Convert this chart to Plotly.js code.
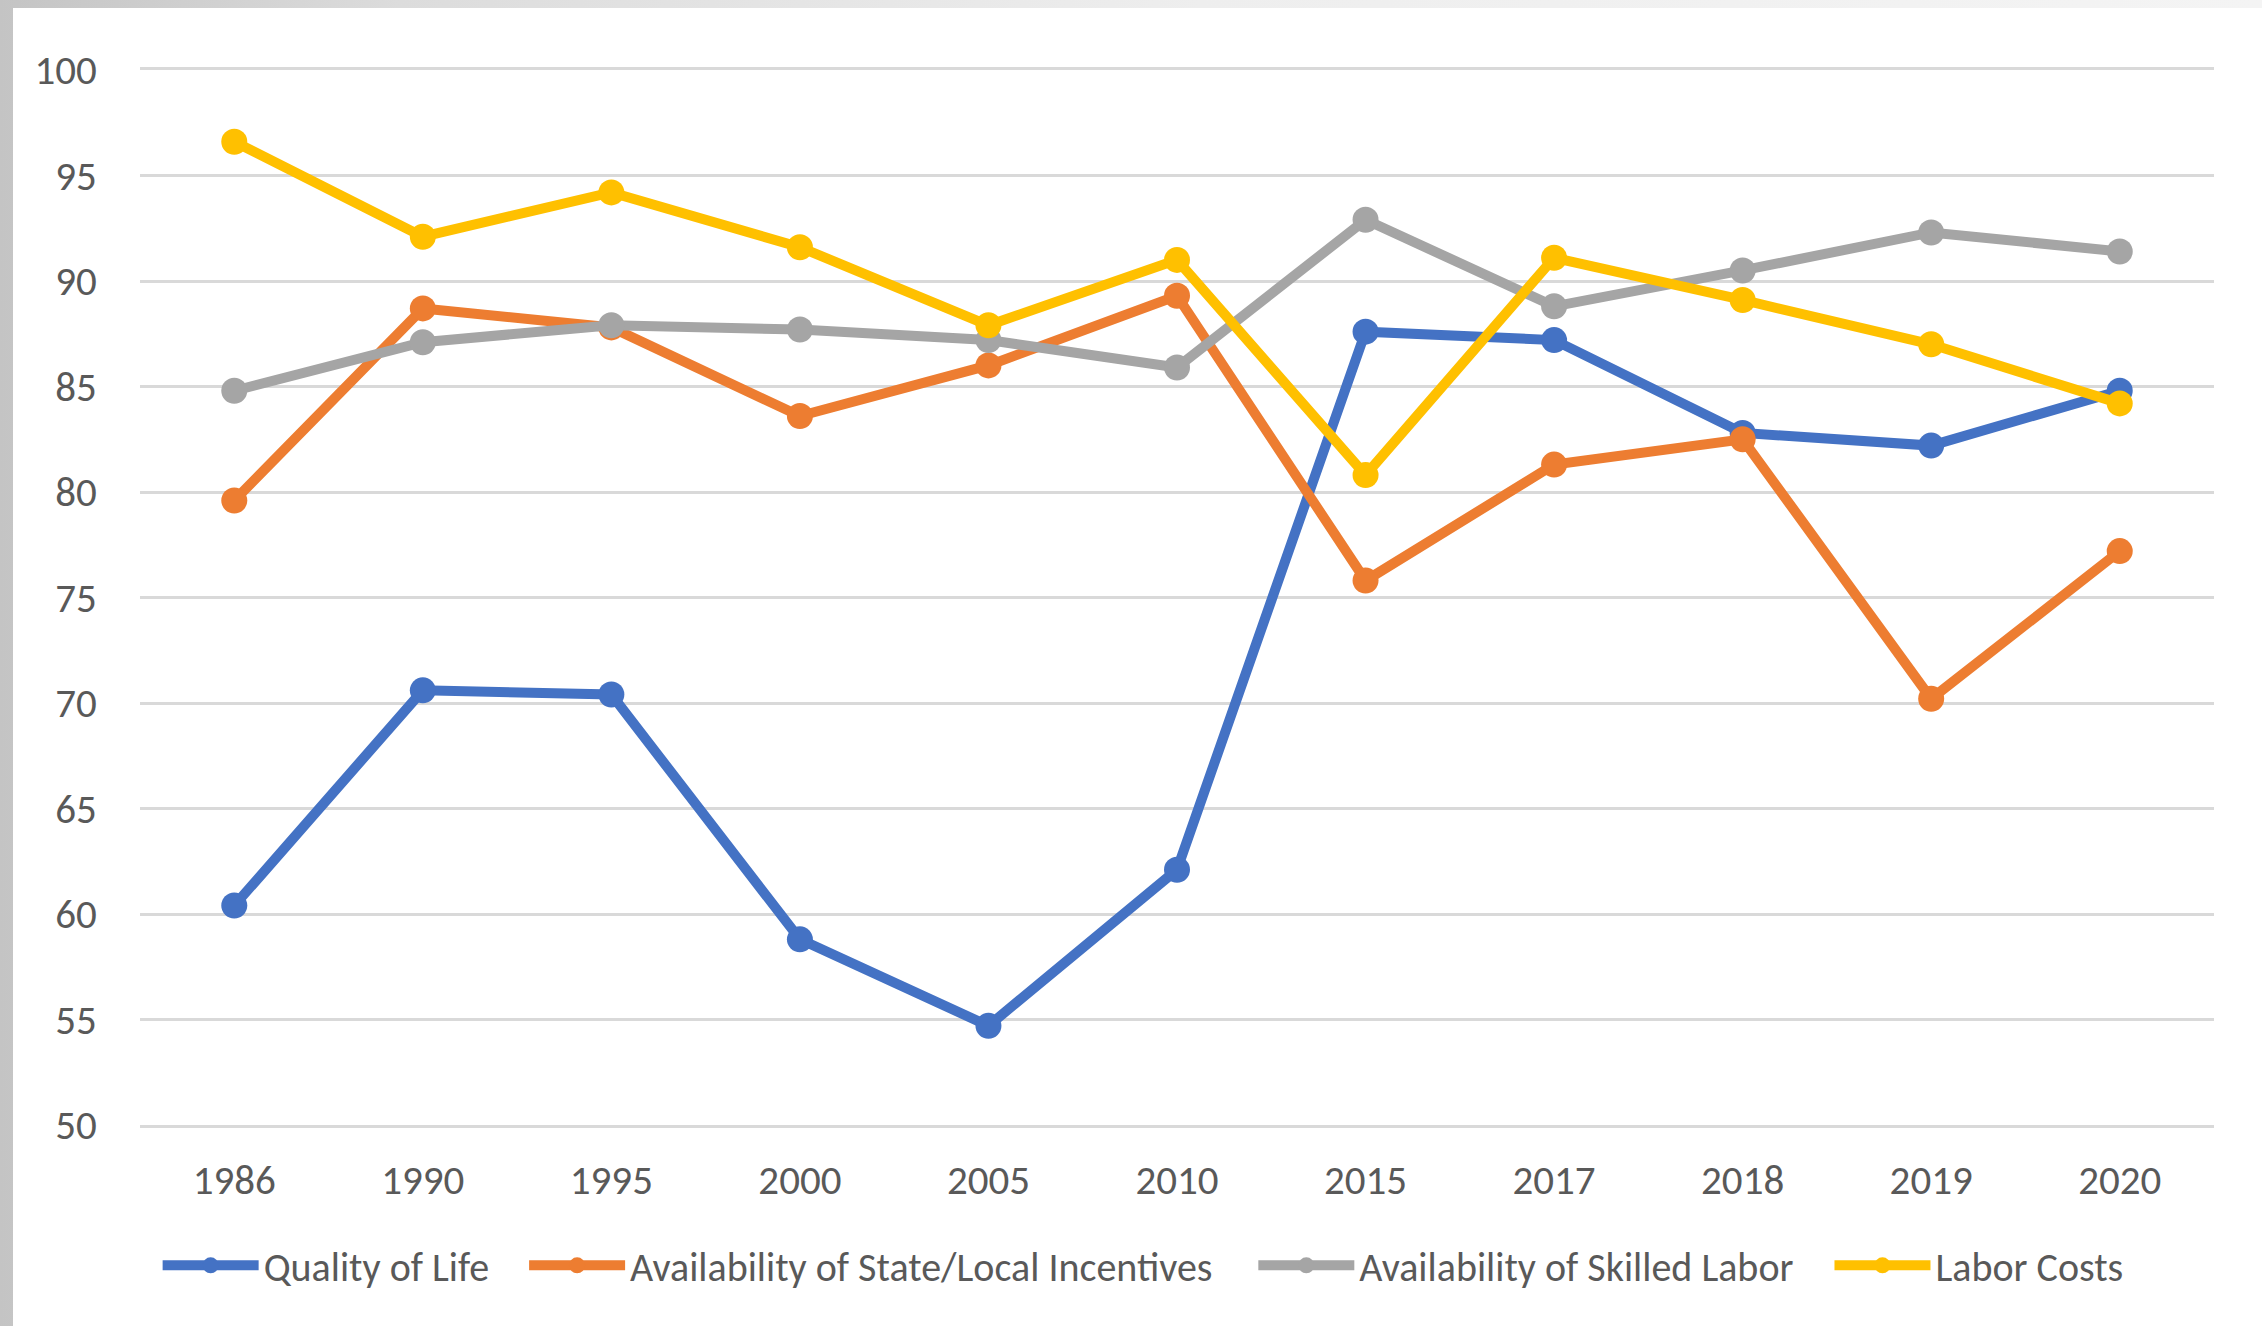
<!DOCTYPE html>
<html>
<head>
<meta charset="utf-8">
<script src="https://cdn.plot.ly/plotly-3.0.1.min.js"></script>
<style>
  html, body { margin: 0; padding: 0; width: 2262px; height: 1326px; overflow: hidden;
    background: linear-gradient(90deg, #c4c4c4 0px, #dcdcdc 400px, #eeeeee 1200px, #f4f4f4 2262px); }
  #chart { position: absolute; left: 13px; top: 8px; width: 2249px; height: 1318px; background: #fff; }
</style>
</head>
<body>
<div id="chart"></div>
<script>
const years = ['1986', '1990', '1995', '2000', '2005', '2010', '2015', '2017', '2018', '2019', '2020'];
const qualityOfLife = [60.4, 70.6, 70.4, 58.8, 54.7, 62.1, 87.6, 87.2, 82.8, 82.2, 84.8];
const stateLocalIncentives = [79.6, 88.7, 87.8, 83.6, 86.0, 89.3, 75.8, 81.3, 82.5, 70.2, 77.2];
const skilledLabor = [84.8, 87.1, 87.9, 87.7, 87.2, 85.9, 92.9, 88.8, 90.5, 92.3, 91.4];
const laborCosts = [96.6, 92.1, 94.2, 91.6, 87.9, 91.0, 80.8, 91.1, 89.1, 87.0, 84.2];
const seriesNames = ['Quality of Life', 'Availability of State/Local Incentives', 'Availability of Skilled Labor', 'Labor Costs'];
const seriesColors = ['#4472C4', '#ED7D31', '#A5A5A5', '#FFC000'];
const yTicks = [50, 55, 60, 65, 70, 75, 80, 85, 90, 95, 100];

const FONT = "Carlito, 'Liberation Sans Narrow', 'DejaVu Sans Condensed', 'Noto Sans', sans-serif";
const allSeries = [qualityOfLife, stateLocalIncentives, skilledLabor, laborCosts];
const legendIds = ['legend', 'legend2', 'legend3', 'legend4'];
// left positions of each legend entry (paper fraction of plot width)
const legendX = [0.0085, 0.1852, 0.5368, 0.8146];

const traces = allSeries.map((vals, i) => ({
  type: 'scatter',
  mode: 'lines+markers',
  x: years,
  y: vals,
  name: seriesNames[i],
  legend: legendIds[i],
  line: { color: seriesColors[i], width: 10 },
  marker: { color: seriesColors[i], size: 26 },
  hoverinfo: 'x+y+name'
}));

const legendBase = {
  orientation: 'h',
  xanchor: 'left',
  y: -0.133,
  yanchor: 'middle',
  font: { family: FONT, size: 40, color: '#595959' },
  itemwidth: 96,
  itemsizing: 'trace',
  bgcolor: 'rgba(0,0,0,0)'
};

const layout = {
  width: 2249,
  height: 1318,
  autosize: false,
  paper_bgcolor: '#ffffff',
  plot_bgcolor: '#ffffff',
  margin: { l: 127, r: 48, t: 62, b: 201, autoexpand: false },
  font: { family: FONT, size: 40, color: '#595959' },
  showlegend: true,
  xaxis: {
    type: 'category',
    range: [-0.5, 10.5],
    showgrid: false,
    zeroline: false,
    showline: true,
    mirror: true,
    linecolor: '#D9D9D9',
    linewidth: 3,
    ticks: 'outside',
    ticklen: 17,
    tickangle: 0,
    tickcolor: 'rgba(0,0,0,0)',
    tickfont: { family: FONT, size: 41, color: '#595959' },
    automargin: false,
    fixedrange: true
  },
  yaxis: {
    range: [50, 100],
    tickvals: yTicks,
    showgrid: true,
    gridcolor: '#D9D9D9',
    gridwidth: 3,
    zeroline: false,
    showline: false,
    ticks: 'outside',
    ticklen: 34,
    tickcolor: 'rgba(0,0,0,0)',
    tickfont: { family: FONT, size: 41, color: '#595959' },
    automargin: false,
    fixedrange: true
  }
};
legendIds.forEach((id, i) => { layout[id] = Object.assign({}, legendBase, { x: legendX[i] }); });

Plotly.newPlot('chart', traces, layout, { displayModeBar: false, staticPlot: true });
</script>
</body>
</html>
